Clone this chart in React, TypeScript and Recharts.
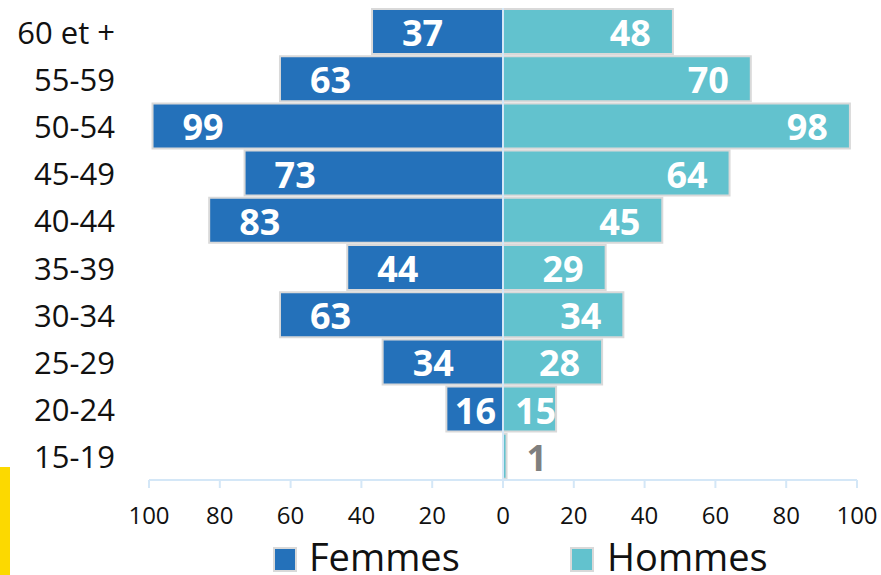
import { BarChart, Bar, XAxis, YAxis, ReferenceLine, Legend, LabelList } from "recharts";

const ages = ["60 et +", "55-59", "50-54", "45-49", "40-44", "35-39", "30-34", "25-29", "20-24", "15-19"];
const femmes = [37, 63, 99, 73, 83, 44, 63, 34, 16, 0];
const hommes = [48, 70, 98, 64, 45, 29, 34, 28, 15, 1];
const xTicks = [-100, -80, -60, -40, -20, 0, 20, 40, 60, 80, 100];

const data = ages.map((age, i) => ({
  age,
  femmes: -femmes[i],
  hommes: hommes[i],
}));

const FEMMES_COLOR = "#2471BA";
const HOMMES_COLOR = "#62C2CE";
const BORDER = "#d9d9d9";
const AXIS_BLUE = "#d4e7f7";
const FONT = "'Open Sans', sans-serif";

function BarLabel(props: any) {
  const { x, y, width, height, value, side } = props;
  const v = Math.abs(Number(value));
  if (!v) return null;
  const left = Math.min(x, x + width);
  const right = Math.max(x, x + width);
  const w = right - left;
  const cy = y + height / 2 + 1;
  let tx = 0;
  let anchor: "start" | "end" = "start";
  let fill = "#ffffff";
  if (side === "f") {
    if (w >= 78) {
      tx = left + 30;
      anchor = "start";
    } else {
      tx = right - 7;
      anchor = "end";
    }
  } else {
    if (v < 5) {
      tx = right + 20;
      anchor = "start";
      fill = "#7f7f7f";
    } else if (w >= 75) {
      tx = right - 22;
      anchor = "end";
    } else {
      tx = left + 12;
      anchor = "start";
    }
  }
  return (
    <text
      x={tx}
      y={cy}
      textAnchor={anchor}
      dominantBaseline="central"
      fill={fill}
      fontFamily={FONT}
      fontWeight={700}
      fontSize={36}
    >
      {v}
    </text>
  );
}

function AgeTick(props: any) {
  const { y, payload } = props;
  return (
    <text x={115} y={y} textAnchor="end" dominantBaseline="central" fill="#111" fontFamily={FONT} fontSize={31}>
      {payload.value}
    </text>
  );
}

function ValueTick(props: any) {
  const { x, y, payload } = props;
  return (
    <text x={x} y={y} dy={34} textAnchor="middle" fill="#111" fontFamily={FONT} fontSize={24}>
      {Math.abs(payload.value)}
    </text>
  );
}

function LegendContent() {
  return (
    <svg width={881} height={44} style={{ display: "block", overflow: "visible" }}>
      <rect x={274} y={17} width={22} height={23} fill={FEMMES_COLOR} stroke={BORDER} strokeWidth={2} />
      <text x={309} y={40} fontFamily={FONT} fontSize={38} fill="#111">Femmes</text>
      <rect x={571} y={17} width={22} height={23} fill={HOMMES_COLOR} stroke={BORDER} strokeWidth={2} />
      <text x={607} y={40} fontFamily={FONT} fontSize={38} fill="#111">Hommes</text>
    </svg>
  );
}

export default function App() {
  return (
    <div style={{ position: "absolute", left: 0, top: 0, width: 881, height: 575, background: "#fff" }}>
      <div style={{ position: "absolute", left: 0, top: 467, width: 10, height: 108, background: "#FCD900" }} />
      <BarChart
        width={881}
        height={575}
        data={data}
        layout="vertical"
        stackOffset="sign"
        barCategoryGap={1}
        margin={{ top: 8, right: 24, left: 0, bottom: 0 }}
      >
        <XAxis
          type="number"
          domain={[-100, 100]}
          ticks={xTicks}
          height={95}
          stroke={AXIS_BLUE}
          strokeWidth={2}
          tickSize={8}
          tick={<ValueTick />}
          interval={0}
        />
        <YAxis
          type="category"
          dataKey="age"
          width={149}
          axisLine={false}
          tickLine={false}
          tick={<AgeTick />}
          interval={0}
        />
        <Legend
          verticalAlign="middle"
          align="center"
          layout="horizontal"
          content={<LegendContent />}
          wrapperStyle={{ top: 531, left: 0, width: 881, height: 44 }}
        />
        <Bar dataKey="femmes" name="Femmes" stackId="a" fill={FEMMES_COLOR} stroke={BORDER} strokeWidth={2} isAnimationActive={false}>
          <LabelList dataKey="femmes" content={<BarLabel side="f" />} />
        </Bar>
        <Bar dataKey="hommes" name="Hommes" stackId="a" fill={HOMMES_COLOR} stroke={BORDER} strokeWidth={2} isAnimationActive={false}>
          <LabelList dataKey="hommes" content={<BarLabel side="h" />} />
        </Bar>
        <ReferenceLine x={0} stroke={AXIS_BLUE} strokeWidth={2} />
      </BarChart>
    </div>
  );
}
